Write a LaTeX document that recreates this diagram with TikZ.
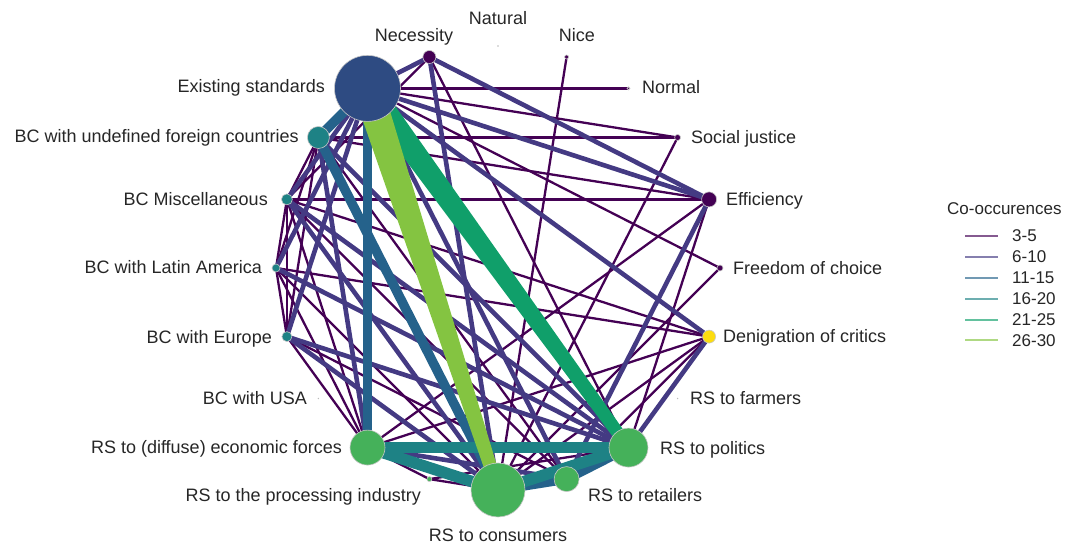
\documentclass[tikz,border=0pt]{standalone}
\usepackage{fontspec}
\setmainfont{Liberation Sans}
\usetikzlibrary{calc,backgrounds}

% edge colours by co-occurrence class
\definecolor{cA}{HTML}{440154}
\definecolor{cB}{HTML}{443A83}
\definecolor{cC}{HTML}{25628B}
\definecolor{cD}{HTML}{1E8285}
\definecolor{cE}{HTML}{109F6A}
\definecolor{cF}{HTML}{84C441}
% node fills
\definecolor{nBlue}{HTML}{2E4B82}
\definecolor{nTeal}{HTML}{1E8285}
\definecolor{nGreen}{HTML}{45B15A}
\definecolor{nPurple}{HTML}{440154}
\definecolor{nYellow}{HTML}{FCDC0F}
\definecolor{nGrey}{HTML}{BBBBBB}

% tapered band between two nodes: colour, from, to, half-width at from, half-width at to
\newcommand{\taperedge}[5]{%
  \fill[#1] ($(#2.center)!#4!90:(#3.center)$) -- ($(#3.center)!#5!-90:(#2.center)$)
    -- ($(#3.center)!#5!90:(#2.center)$) -- ($(#2.center)!#4!-90:(#3.center)$) -- cycle;}

\begin{document}
\begin{tikzpicture}[x=1pt,y=-1pt,
  vert/.style={circle,inner sep=0pt,draw=black!22,line width=0.6pt},
  dot/.style={circle,inner sep=0pt,fill=nGrey,minimum size=1.6pt},
  lab/.style={font=\fontsize{18}{18}\selectfont,text=black!85,inner sep=0pt},
  leg/.style={font=\fontsize{17}{17}\selectfont,text=black!85,inner sep=0pt},
  eA/.style={draw=cA,line width=2.3pt},
  eB/.style={draw=cB,line width=4.6pt},
  eC/.style={draw=cC,line width=9.5pt},
  eD/.style={draw=cD,line width=11.5pt},
  legline/.style={line width=2pt,opacity=0.65},
]
\useasboundingbox (0,0) rectangle (1072,545);

% ---- vertices (on a circle, centre (498,268), radius 222) ----
\node[vert,fill=nPurple,minimum size=13pt] (nec)  at (429.4,57) {};
\node[dot]                                 (nat)  at (498,46) {};
\node[vert,fill=nPurple,minimum size=4pt]  (nice) at (566.6,57) {};
\node[vert,fill=nPurple,minimum size=3pt]  (norm) at (628.5,88.4) {};
\node[vert,fill=nPurple,minimum size=6pt]  (sj)   at (677.6,137.5) {};
\node[vert,fill=nPurple,minimum size=15pt] (eff)  at (709.1,199.4) {};
\node[vert,fill=nPurple,minimum size=6pt]  (foc)  at (720,268) {};
\node[vert,fill=nYellow,minimum size=13pt] (doc)  at (709.1,336.6) {};
\node[dot]                                 (far)  at (677.6,398.5) {};
\node[vert,fill=nGreen,minimum size=39pt]  (rsp)  at (628.5,447.6) {};
\node[vert,fill=nGreen,minimum size=25pt]  (rsr)  at (566.6,479.1) {};
\node[vert,fill=nGreen,minimum size=54pt]  (rsc)  at (498,490) {};
\node[vert,fill=nGreen,minimum size=5pt]   (rspi) at (429.4,479.1) {};
\node[vert,fill=nGreen,minimum size=35pt]  (rse)  at (367.5,447.6) {};
\node[dot]                                 (usa)  at (318.4,398.5) {};
\node[vert,fill=nTeal,minimum size=10pt]   (bce)  at (286.9,336.6) {};
\node[vert,fill=nTeal,minimum size=8pt]    (bcla) at (276,268) {};
\node[vert,fill=nTeal,minimum size=11pt]   (bcm)  at (286.9,199.4) {};
\node[vert,fill=nTeal,minimum size=22pt]   (bcu)  at (318.4,137.5) {};
\node[vert,fill=nBlue,minimum size=66pt]   (es)   at (367.5,88.4) {};

% ---- edges, drawn beneath the vertices ----
\begin{pgfonlayer}{background}
  % 3-5
  \foreach \a/\b in {es/norm,es/sj,es/foc,nice/rsc,sj/bcu,sj/rsc,eff/bcu,eff/bcm,
      eff/rse,eff/rsp,doc/bcm,doc/rse,doc/rsc,doc/rsr,doc/bcla,foc/rsc,rspi/rse,
      rspi/rsc,rspi/rsp,nec/rsp,nec/bcm,bcu/bcm,bcu/bcla,bcm/bcla,bcm/bce,bcla/bce,
      bce/rse,bce/rsr,bcla/rse,bcla/rsc,bcm/rse,bcm/rsr,bcu/rsr,bcu/bce}
    \draw[eA] (\a.center) -- (\b.center);
  % 6-10
  \foreach \a/\b in {es/nec,nec/eff,nec/rsc,es/eff,es/doc,eff/rsr,doc/rsp,bcu/rsp,
      bcla/rsp,bcm/rsp,es/bcm,es/bcla,es/bce,es/rsr,bce/rsc,bcm/rsc,rse/rsr,
      bcu/rse,bce/rsp}
    \draw[eB] (\a.center) -- (\b.center);
  % 11-15
  \foreach \a/\b in {es/rse,es/bcu,bcu/rsc,rsc/rsr,rsr/rsp}
    \draw[eC] (\a.center) -- (\b.center);
  % 16-20
  \foreach \a/\b in {rse/rsp,rse/rsc,rsc/rsp}
    \draw[eD] (\a.center) -- (\b.center);
  % 21-25 and 26-30
  \taperedge{cE}{es}{rsp}{12.5pt}{6pt}
  \taperedge{cF}{es}{rsc}{15pt}{6pt}
\end{pgfonlayer}

% ---- labels ----
\node[lab,anchor=base]      (lnec)  at (414,41.5)  {Necessity};
\node[lab,anchor=base]      (lnat)  at (498,24.5)  {Natural};
\node[lab,anchor=base]      (lnice) at (577,41.5)  {Nice};
\node[lab,anchor=base west] (lnorm) at (642,93.5)  {Normal};
\node[lab,anchor=base west] (lsj)   at (691,143.5) {Social justice};
\node[lab,anchor=base west] (leff)  at (726,205.5) {Efficiency};
\node[lab,anchor=base west] (lfoc)  at (733,274.5) {Freedom of choice};
\node[lab,anchor=base west] (ldoc)  at (723,342.5) {Denigration of critics};
\node[lab,anchor=base west] (lfar)  at (690,404.5) {RS to farmers};
\node[lab,anchor=base west] (lrsp)  at (660,454.5) {RS to politics};
\node[lab,anchor=base west] (lrsr)  at (588,501.5) {RS to retailers};
\node[lab,anchor=base]      (lrsc)  at (498,541.5) {RS to consumers};
\node[lab,anchor=base east] (lrspi) at (421,501.5) {RS to the processing industry};
\node[lab,anchor=base east] (lrse)  at (342,453.5) {RS to (diffuse) economic forces};
\node[lab,anchor=base east] (lusa)  at (307,404.5) {BC with USA};
\node[lab,anchor=base east] (lbce)  at (272,343.5) {BC with Europe};
\node[lab,anchor=base east] (lbcla) at (262,273.5) {BC with Latin America};
\node[lab,anchor=base east] (lbcm)  at (268,205.5) {BC Miscellaneous};
\node[lab,anchor=base east] (lbcu)  at (299,142.5) {BC with undefined foreign countries};
\node[lab,anchor=base east] (les)   at (325,92.5)  {Existing standards};

% ---- legend ----
\node[leg,anchor=base west] (legt) at (947,215) {Co-occurences};
\foreach \c/\t [count=\i from 0] in {cA/3-5,cB/6-10,cC/11-15,cD/16-20,cE/21-25,cF/26-30}{
  \coordinate (ls\i) at (965,236+20.9*\i);
  \coordinate (le\i) at (998,236+20.9*\i);
  \draw[legline,draw=\c] (ls\i) -- (le\i);
  \node[leg,anchor=base west] (lt\i) at ($(le\i)+(14,6)$) {\t};
}
\end{tikzpicture}
\end{document}
